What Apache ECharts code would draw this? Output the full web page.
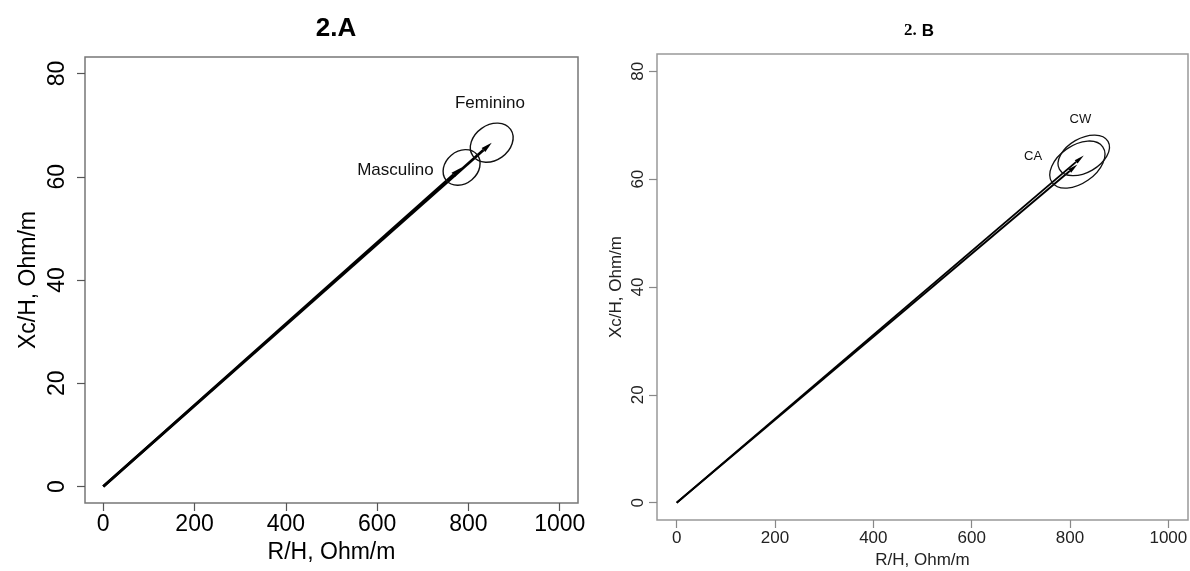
<!DOCTYPE html>
<html>
<head>
<meta charset="utf-8">
<script src="https://cdn.jsdelivr.net/npm/echarts@6/dist/echarts.min.js"></script>
<style>
  html, body { margin: 0; padding: 0; background: #fff; }
  #chart { width: 1190px; height: 571px; }
</style>
</head>
<body>
<div id="chart"></div>
<script>
// ticks shared by both panels
const xTicks = [0, 200, 400, 600, 800, 1000];
const yTicks = [0, 20, 40, 60, 80];

// panel 2.A : sex
const groupsA = ["Masculino", "Feminino"];
const meanR_A = [785, 851];
const meanXc_A = [61.8, 66.6];
const ellR_A = [44, 50.5];     // semi axis, R units
const ellXc_A = [3.1, 3.4];    // semi axis, Xc units
const tiltA = [40, 35];
const labelR_A = [640, 847];
const labelXc_A = [61.2, 74.2];

// panel 2.B : CA / CW
const groupsB = ["CA", "CW"];
const meanR_B = [815, 828];
const meanXc_B = [62.7, 64.4];
const ellR_B = [63, 57];
const ellXc_B = [3.5, 3.15];
const tiltB = [35, 30];
const labelR_B = [725, 821];
const labelXc_B = [64.2, 71.1];

const FONT = "'Liberation Sans', Arial, sans-serif";

function vectorItem(lw, head) {
  return function (params, api) {
    const p0 = api.coord([0, 0]);
    const p1 = api.coord([api.value(0), api.value(1)]);
    const ang = Math.atan2(p1[1] - p0[1], p1[0] - p0[0]);
    const ux = Math.cos(ang), uy = Math.sin(ang);
    const bx = p1[0] - ux * head[0], by = p1[1] - uy * head[0];
    return {
      type: "group",
      children: [
        { type: "line", shape: { x1: p0[0], y1: p0[1], x2: bx, y2: by },
          style: { stroke: "#000", lineWidth: lw } },
        { type: "polygon",
          shape: { points: [p1, [bx - uy * head[1], by + ux * head[1]], [bx + uy * head[1], by - ux * head[1]]] },
          style: { fill: "#000" } }
      ]
    };
  };
}

function ellipseItem(lw) {
  return function (params, api) {
    const c = api.coord([api.value(0), api.value(1)]);
    const rx = api.size([api.value(2), 0])[0];
    const ry = api.size([0, api.value(3)])[1];
    return {
      type: "ellipse",
      x: c[0], y: c[1],
      rotation: api.value(4) * Math.PI / 180,
      shape: { cx: 0, cy: 0, rx: rx, ry: ry },
      style: { fill: "none", stroke: "#111", lineWidth: lw }
    };
  };
}

function textItem(size) {
  return function (params, api) {
    const c = api.coord([api.value(0), api.value(1)]);
    return {
      type: "text", x: c[0], y: c[1],
      style: { text: api.value(2), font: size + "px " + FONT, fill: "#111", align: "center", verticalAlign: "middle" }
    };
  };
}

function zip(...cols) {
  return cols[0].map((_, i) => cols.map(c => c[i]));
}

function xAx(grid, fs, margin, gap, col, txt) {
  return {
    gridIndex: grid, type: "value", min: -40, max: 1040, position: "bottom",
    splitLine: { show: false },
    axisLine: { show: false, onZero: false },
    axisTick: { show: true, customValues: xTicks, length: 8, lineStyle: { color: col, width: 1.2 } },
    axisLabel: { customValues: xTicks, formatter: v => String(v), fontSize: fs, fontFamily: FONT, color: txt, margin: margin },
    name: "R/H, Ohm/m", nameLocation: "middle", nameGap: gap,
    nameTextStyle: { fontSize: fs, fontFamily: FONT, color: txt }
  };
}

function yAx(grid, fs, margin, gap, col, txt) {
  return {
    gridIndex: grid, type: "value", min: -3.2, max: 83.2, position: "left",
    splitLine: { show: false },
    axisLine: { show: false, onZero: false },
    axisTick: { show: true, customValues: yTicks, length: 8, lineStyle: { color: col, width: 1.2 } },
    axisLabel: { customValues: yTicks, formatter: v => String(v), fontSize: fs, fontFamily: FONT, color: txt, margin: margin, rotate: 90 },
    name: "Xc/H, Ohm/m", nameLocation: "middle", nameGap: gap,
    nameTextStyle: { fontSize: fs, fontFamily: FONT, color: txt }
  };
}

const chart = echarts.init(document.getElementById("chart"), null, { renderer: "canvas" });
chart.setOption({
  animation: false,
  backgroundColor: "#fff",
  title: [
    { text: "2.A", left: 331, top: 11, textAlign: "center",
      textStyle: { fontSize: 26, fontWeight: "bold", fontFamily: FONT, color: "#000" } },
    { text: "{a|2.} {b|B}", left: 914, top: 17, textAlign: "center",
      textStyle: { rich: {
        a: { fontSize: 17, fontFamily: "'Liberation Serif', serif", color: "#000" },
        b: { fontSize: 17, fontWeight: "bold", fontFamily: FONT, color: "#000" } } } }
  ],
  grid: [
    { left: 85, top: 57, width: 493, height: 446, outerBoundsMode: "none", show: true,
      borderColor: "#777", borderWidth: 1.5, backgroundColor: "transparent" },
    { left: 657, top: 54, width: 531, height: 466, outerBoundsMode: "none", show: true,
      borderColor: "#999", borderWidth: 1.5, backgroundColor: "transparent" }
  ],
  xAxis: [xAx(0, 23, 10, 37, "#555", "#000"), xAx(1, 17, 10, 25, "#888", "#222")],
  yAxis: [yAx(0, 23, 16, 45, "#555", "#000"), yAx(1, 17, 10, 32, "#888", "#222")],
  series: [
    { type: "custom", xAxisIndex: 0, yAxisIndex: 0, renderItem: vectorItem(2.8, [11, 2.8]),
      data: zip(meanR_A, meanXc_A) },
    { type: "custom", xAxisIndex: 0, yAxisIndex: 0, renderItem: ellipseItem(1.4),
      data: zip(meanR_A, meanXc_A, ellR_A, ellXc_A, tiltA) },
    { type: "custom", xAxisIndex: 0, yAxisIndex: 0, renderItem: textItem(17),
      data: zip(labelR_A, labelXc_A, groupsA) },
    { type: "custom", xAxisIndex: 1, yAxisIndex: 1, renderItem: vectorItem(1.9, [10, 2.2]),
      data: zip(meanR_B, meanXc_B) },
    { type: "custom", xAxisIndex: 1, yAxisIndex: 1, renderItem: ellipseItem(1.3),
      data: zip(meanR_B, meanXc_B, ellR_B, ellXc_B, tiltB) },
    { type: "custom", xAxisIndex: 1, yAxisIndex: 1, renderItem: textItem(13),
      data: zip(labelR_B, labelXc_B, groupsB) }
  ]
});
</script>
</body>
</html>
